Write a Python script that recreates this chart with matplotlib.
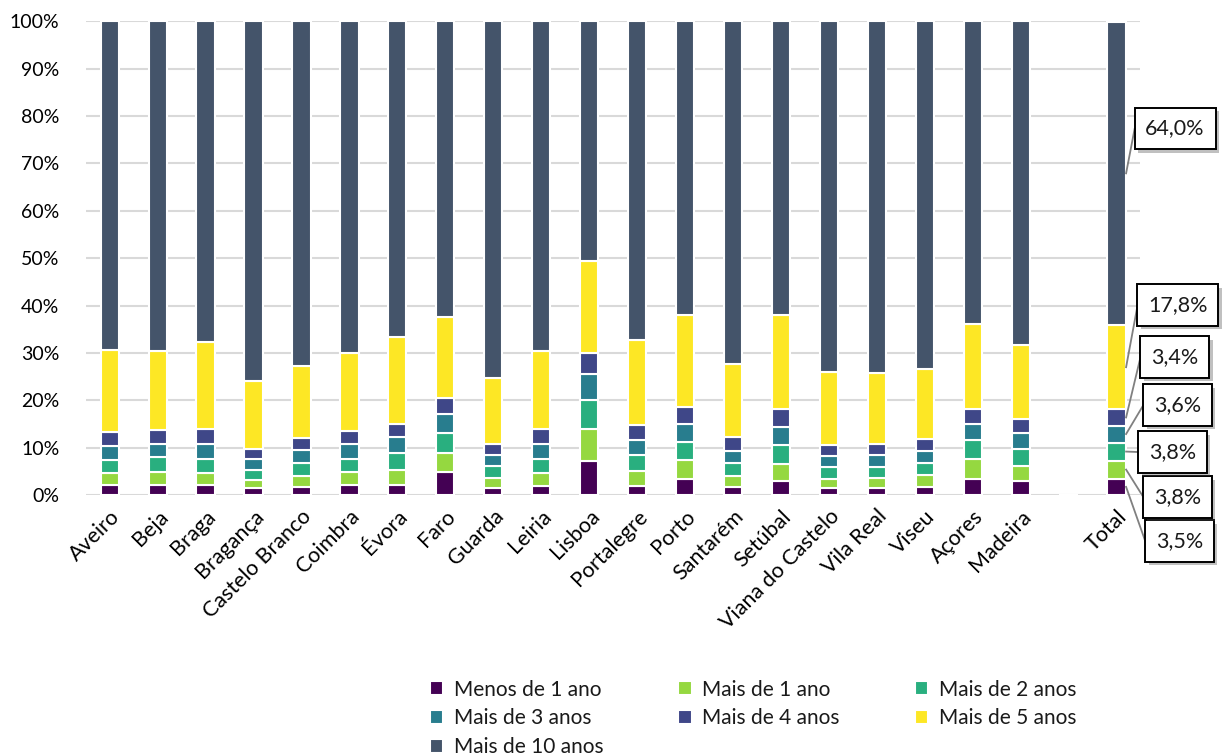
import matplotlib
matplotlib.use("Agg")
import matplotlib.pyplot as plt
import matplotlib.patheffects as pe
import numpy as np

plt.rcParams['font.family'] = ['Lato', 'DejaVu Sans']
plt.rcParams['text.color'] = '#1a1a1a'

#data (in %)
regioes = ["Aveiro", "Beja", "Braga", "Bragança", "Castelo Branco", "Coimbra", "Évora",
           "Faro", "Guarda", "Leiria", "Lisboa", "Portalegre", "Porto", "Santarém",
           "Setúbal", "Viana do Castelo", "Vila Real", "Viseu", "Açores", "Madeira", "", "Total"]
series = ["Menos de 1 ano", "Mais de 1 ano", "Mais de 2 anos", "Mais de 3 anos",
          "Mais de 4 anos", "Mais de 5 anos", "Mais de 10 anos"]

menos_1 = [2.1, 2.1, 2.1, 1.5, 1.7, 2.1, 2.2, 4.9, 1.5, 2.0, 7.2, 2.0, 3.5, 1.8, 3.0, 1.6, 1.6, 1.8, 3.5, 2.9, 0, 3.5]
mais_1 = [2.5, 2.8, 2.6, 1.8, 2.4, 2.7, 3.2, 4.0, 2.2, 2.7, 6.7, 3.0, 3.9, 2.3, 3.6, 1.9, 2.1, 2.5, 4.2, 3.2, 0, 3.8]
mais_2 = [2.9, 3.1, 3.0, 2.1, 2.7, 2.9, 3.4, 4.3, 2.4, 3.0, 6.1, 3.4, 3.8, 2.7, 3.9, 2.4, 2.3, 2.5, 3.9, 3.7, 0, 3.8]
mais_3 = [2.9, 2.9, 3.0, 2.2, 2.7, 3.0, 3.4, 3.9, 2.3, 3.1, 5.5, 3.2, 3.8, 2.6, 3.8, 2.3, 2.4, 2.5, 3.5, 3.3, 0, 3.6]
mais_4 = [3.0, 2.8, 3.2, 2.2, 2.5, 2.8, 2.9, 3.4, 2.3, 3.1, 4.6, 3.2, 3.7, 2.8, 3.8, 2.3, 2.3, 2.5, 3.0, 2.9, 0, 3.4]
mais_5 = [17.3, 16.7, 18.5, 14.2, 15.2, 16.6, 18.2, 17.0, 14.1, 16.5, 19.4, 17.9, 19.3, 15.4, 19.9, 15.5, 15.1, 14.9, 18.0, 15.7, 0, 17.8]
mais_10 = [69.3, 69.6, 67.6, 76.0, 72.8, 69.9, 66.7, 62.5, 75.2, 69.6, 50.5, 67.3, 62.0, 72.4, 62.0, 74.0, 74.2, 73.3, 63.9, 68.3, 0, 64.0]

cores = ["#440154", "#95d840", "#29af7f", "#287d8e", "#3f4788", "#fde725", "#44546a"]

fig = plt.figure(figsize=(12.25, 7.56), dpi=100)
ax = fig.add_axes([0.070, 0.345, 0.861, 0.627])

x = np.arange(len(regioes))
valores = [menos_1, mais_1, mais_2, mais_3, mais_4, mais_5, mais_10]
base = np.zeros(len(regioes))
barras = []
for nome, v, c in zip(series, valores, cores):
    v = np.array(v)
    b = ax.bar(x, v, 0.38, bottom=base, color=c, edgecolor="white", linewidth=1.5, label=nome, zorder=3)
    barras.append(b)
    base = base + v

ax.set_xlim(-0.5, 21.5)
ax.set_ylim(0, 100)
ax.set_yticks(np.arange(0, 101, 10))
ax.set_yticklabels([f"{t}%" for t in range(0, 101, 10)], fontsize=14)
ax.yaxis.grid(True, color="#d9d9d9", linewidth=1.5, zorder=0)
ax.set_axisbelow(True)
for s in ax.spines.values():
    s.set_visible(False)
ax.tick_params(axis="y", length=0, pad=19)
ax.set_xticks([i for i in x if regioes[i] != ""])
ax.set_xticklabels([r for r in regioes if r != ""], rotation=45, ha="right",
                   rotation_mode="anchor", fontsize=15.5)
ax.tick_params(axis="x", length=0, pad=8)

#labels for the Total bar
tot = len(regioes) - 1
tot_vals = [v[tot] for v in valores]
mids = np.cumsum(tot_vals) - np.array(tot_vals) / 2
box_y = [-9.7, -0.4, 9.1, 19.0, 29.1, 40.1, 77.4]
box_x = [21.82, 21.78, 21.68, 21.78, 21.72, 21.66, 21.60]
for val, m, by, bx in zip(tot_vals, mids, box_y, box_x):
    ax.plot([tot + 0.2, bx - 0.22, bx], [m, by, by], color="#808080", lw=1.3,
            clip_on=False, zorder=4)
    t = ax.text(bx, by, f"{val:.1f}%".replace(".", ","), fontsize=15.5, va="center", ha="left",
                bbox=dict(boxstyle="square,pad=0.5", fc="white", ec="black", lw=1.4),
                zorder=5, clip_on=False)
    t.get_bbox_patch().set_path_effects([pe.SimplePatchShadow(offset=(2.5, -2.5), alpha=0.35), pe.Normal()])

#legend ordered row-wise like the original
ordem = [0, 3, 6, 1, 4, 2, 5]
leg = fig.legend([barras[i] for i in ordem], [series[i] for i in ordem], ncol=3,
                 loc="upper left", bbox_to_anchor=(0.344, 0.112), frameon=False,
                 fontsize=15, handlelength=0.65, handleheight=0.65, handletextpad=0.5,
                 columnspacing=3.6, labelspacing=0.42, borderaxespad=0)

fig.savefig("out.png", dpi=100)
